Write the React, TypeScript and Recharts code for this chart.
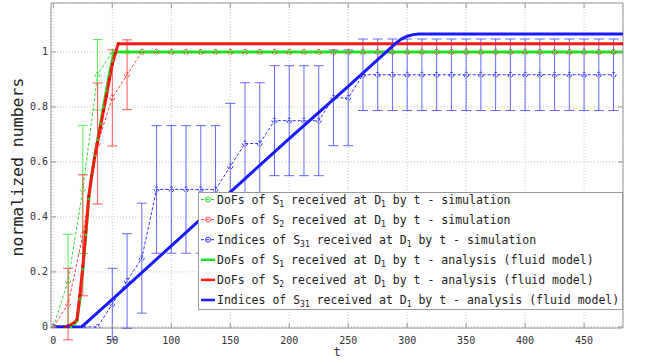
import { ComposedChart, Line, XAxis, YAxis, CartesianGrid, ErrorBar, ReferenceArea } from "recharts";

const FONT = "'DejaVu Sans Mono', monospace";

// plot frame (px) — matches margins + axis sizes below
const PLOT_L = 51;
const PLOT_T = 3;
const PLOT_R = 623;
const PLOT_B = 328;

// simulation sample times
const simT = [
  0, 12.5, 25, 37.5, 50, 62.5, 75, 87.5, 100, 112.5, 125, 137.5, 150, 162.5, 175, 187.5, 200, 212.5, 225, 237.5,
  250, 262.5, 275, 287.5, 300, 312.5, 325, 337.5, 350, 362.5, 375, 387.5, 400, 412.5, 425, 437.5, 450, 462.5, 475,
];

// DoFs of S1 - simulation (mean, error)
const s1Sim = [
  0, 0.167, 0.5, 0.917, 1, 1, 1, 1, 1, 1, 1, 1, 1, 1, 1, 1, 1, 1, 1, 1,
  1, 1, 1, 1, 1, 1, 1, 1, 1, 1, 1, 1, 1, 1, 1, 1, 1, 1, 1,
];
const s1Err = [
  0, 0.17, 0.233, 0.128, 0, 0, 0, 0, 0, 0, 0, 0, 0, 0, 0, 0, 0, 0, 0, 0,
  0, 0, 0, 0, 0, 0, 0, 0, 0, 0, 0, 0, 0, 0, 0, 0, 0, 0, 0,
];

// DoFs of S2 - simulation
const s2Sim = [
  0, 0.083, 0.333, 0.667, 0.833, 0.917, 1, 1, 1, 1, 1, 1, 1, 1, 1, 1, 1, 1, 1, 1,
  1, 1, 1, 1, 1, 1, 1, 1, 1, 1, 1, 1, 1, 1, 1, 1, 1, 1, 1,
];
const s2Err = [
  0, 0.13, 0.22, 0.22, 0.175, 0.127, 0, 0, 0, 0, 0, 0, 0, 0, 0, 0, 0, 0, 0, 0,
  0, 0, 0, 0, 0, 0, 0, 0, 0, 0, 0, 0, 0, 0, 0, 0, 0, 0, 0,
];

// Indices of S31 - simulation
const s3Sim = [
  0, 0, 0, 0, 0.083, 0.167, 0.25, 0.5, 0.5, 0.5, 0.5, 0.5, 0.583, 0.667, 0.667, 0.75, 0.75, 0.75, 0.75, 0.833,
  0.833, 0.917, 0.917, 0.917, 0.917, 0.917, 0.917, 0.917, 0.917, 0.917, 0.917, 0.917, 0.917, 0.917, 0.917, 0.917, 0.917, 0.917, 0.917,
];
const s3Err = [
  0, 0, 0, 0, 0.13, 0.172, 0.2, 0.232, 0.232, 0.232, 0.232, 0.232, 0.23, 0.221, 0.221, 0.2, 0.2, 0.2, 0.2, 0.174,
  0.174, 0.13, 0.13, 0.13, 0.13, 0.13, 0.13, 0.13, 0.13, 0.13, 0.13, 0.13, 0.13, 0.13, 0.13, 0.13, 0.13, 0.13, 0.13,
];

// fluid model curves
const fluidS1T = [0, 15, 17.5, 20, 22.5, 25, 27.5, 30, 32.5, 35, 37.5, 40, 42.5, 45, 47.5, 50, 51.5, 483];
const fluidS1 = [0, 0, 0.008, 0.022, 0.1, 0.21, 0.335, 0.465, 0.55, 0.62, 0.68, 0.74, 0.8, 0.86, 0.92, 0.97, 1, 1];

const fluidS2T = [0, 10, 12.5, 15, 17.5, 20, 22.5, 25, 27.5, 30, 32.5, 35, 37.5, 40, 42.5, 45, 47.5, 50, 52.5, 55, 483];
const fluidS2 = [0, 0, 0.003, 0.008, 0.015, 0.026, 0.115, 0.22, 0.345, 0.475, 0.55, 0.615, 0.672, 0.728, 0.785, 0.84, 0.9, 0.955, 0.995, 1.03, 1.03];

const fluidS3T = [0, 24, 50, 100, 150, 200, 250, 290, 295, 300, 305, 310, 483];
const fluidS3 = [0, 0, 0.1, 0.295, 0.49, 0.685, 0.875, 1.03, 1.047, 1.057, 1.063, 1.065, 1.065];

const xTicks = [0, 50, 100, 150, 200, 250, 300, 350, 400, 450];
const yTicks = [0, 0.2, 0.4, 0.6, 0.8, 1];

const toRows = (ts: number[], vs: number[], errs?: number[]) =>
  ts.map((t, i) => ({ t, v: vs[i], err: errs ? errs[i] : 0 }));

const GREEN = "#22e022";
const RED = "#ff1a1a";
const BLUE = "#1a1aff";

const legendRows = [
  { pre: "DoFs of S", sub: "1", tail: "simulation", color: "#33dd33", sim: true },
  { pre: "DoFs of S", sub: "2", tail: "simulation", color: "#ff4444", sim: true },
  { pre: "Indices of S", sub: "31", tail: "simulation", color: "#3333ff", sim: true },
  { pre: "DoFs of S", sub: "1", tail: "analysis (fluid model)", color: GREEN, sim: false },
  { pre: "DoFs of S", sub: "2", tail: "analysis (fluid model)", color: RED, sim: false },
  { pre: "Indices of S", sub: "31", tail: "analysis (fluid model)", color: BLUE, sim: false },
];

function XTick({ x, payload }: any) {
  return (
    <g>
      <line x1={x} x2={x} y1={PLOT_B} y2={PLOT_B - 5} stroke="#999" />
      <line x1={x} x2={x} y1={PLOT_T} y2={PLOT_T + 5} stroke="#999" />
      <text x={x} y={343.5} textAnchor="middle" fontSize={10} fill="#333" fontFamily={FONT}>
        {payload.value}
      </text>
    </g>
  );
}

function YTick({ y, payload }: any) {
  return (
    <g>
      <line x1={PLOT_L} x2={PLOT_L + 5} y1={y} y2={y} stroke="#999" />
      <line x1={PLOT_R} x2={PLOT_R - 5} y1={y} y2={y} stroke="#999" />
      <text x={48} y={y} dy="0.35em" textAnchor="end" fontSize={10} fill="#333" fontFamily={FONT}>
        {payload.value}
      </text>
    </g>
  );
}

function LegendBox() {
  return (
    <svg width={426} height={119} style={{ position: "absolute", left: 198, top: 192 }}>
      <rect x={0.5} y={0.5} width={424} height={117} fill="#fff" stroke="#999" />
      {legendRows.map((r, i) => (
        <g key={i} transform={`translate(0, ${11.5 + i * 20.1})`}>
          <line
            x1={3}
            x2={17}
            y1={-4}
            y2={-4}
            stroke={r.color}
            strokeWidth={r.sim ? 1 : 2.5}
            strokeDasharray={r.sim ? "3 2" : undefined}
          />
          {r.sim ? (
            <circle cx={10} cy={-4} r={2.5} fill="none" stroke={r.color} />
          ) : (
            <circle cx={10} cy={-4} r={1.3} fill={r.color} />
          )}
          <text x={19} y={0} fontSize={11.5} fill="#222" fontFamily={FONT} style={{ whiteSpace: "pre" }}>
            {r.pre}
            <tspan fontSize={8} dy={3}>{r.sub}</tspan>
            <tspan dy={-3}>{" received at D"}</tspan>
            <tspan fontSize={8} dy={3}>1</tspan>
            <tspan dy={-3}>{" by t - " + r.tail}</tspan>
          </text>
        </g>
      ))}
    </svg>
  );
}

export default function App() {
  return (
    <div style={{ position: "absolute", left: 0, top: 0, width: 657, height: 360, background: "#fff" }}>
      <ComposedChart width={657} height={360} margin={{ top: PLOT_T, right: 657 - PLOT_R, bottom: 0, left: 0 }}>
        <CartesianGrid stroke="#c4c4c4" strokeDasharray="1 2" />
        <XAxis
          type="number"
          dataKey="t"
          domain={[-2, 483]}
          allowDataOverflow
          ticks={xTicks}
          height={360 - PLOT_B}
          tickSize={0}
          tickMargin={0}
          tickLine={false}
          axisLine={false}
          tick={<XTick />}
          label={() => (
            <text x={337} y={356} textAnchor="middle" fontSize={12} fill="#333" fontFamily={FONT}>
              t
            </text>
          )}
        />
        <YAxis
          type="number"
          domain={[-0.004, 1.178]}
          allowDataOverflow
          ticks={yTicks}
          width={PLOT_L}
          tickSize={0}
          tickMargin={0}
          tickLine={false}
          axisLine={false}
          tick={<YTick />}
          label={() => (
            <text
              x={18}
              y={167}
              transform="rotate(-90 18 167)"
              textAnchor="middle"
              dominantBaseline="middle"
              fontSize={16.5}
              fill="#222"
              fontFamily={FONT}
            >
              normalized numbers
            </text>
          )}
        />

        <Line
          data={toRows(simT, s1Sim, s1Err)}
          dataKey="v"
          stroke="#33dd33"
          strokeWidth={1}
          strokeDasharray="3 2"
          dot={{ r: 2.5, fill: "none", stroke: "#33dd33", strokeWidth: 1 }}
          isAnimationActive={false}
        >
          <ErrorBar dataKey="err" direction="y" width={5} stroke="#55ee55" strokeWidth={1} />
        </Line>
        <Line
          data={toRows(simT, s2Sim, s2Err)}
          dataKey="v"
          stroke="#ff4444"
          strokeWidth={1}
          strokeDasharray="3 2"
          dot={{ r: 2.5, fill: "none", stroke: "#ff4444", strokeWidth: 1 }}
          isAnimationActive={false}
        >
          <ErrorBar dataKey="err" direction="y" width={5} stroke="#ff5555" strokeWidth={1} />
        </Line>
        <Line
          data={toRows(simT, s3Sim, s3Err)}
          dataKey="v"
          stroke="#3333ff"
          strokeWidth={1}
          strokeDasharray="3 2"
          dot={{ r: 2.5, fill: "none", stroke: "#3333ff", strokeWidth: 1 }}
          isAnimationActive={false}
        >
          <ErrorBar dataKey="err" direction="y" width={5} stroke="#4444ff" strokeWidth={1} strokeOpacity={0.8} />
        </Line>

        <Line
          data={toRows(fluidS1T, fluidS1)}
          dataKey="v"
          stroke={GREEN}
          strokeWidth={3}
          dot={{ r: 1.2, fill: GREEN, stroke: "none" }}
          isAnimationActive={false}
        />
        <Line
          data={toRows(fluidS2T, fluidS2)}
          dataKey="v"
          stroke={RED}
          strokeWidth={3}
          dot={{ r: 1.2, fill: "#cc0000", stroke: "none" }}
          isAnimationActive={false}
        />
        <Line
          data={toRows(fluidS3T, fluidS3)}
          dataKey="v"
          stroke={BLUE}
          strokeWidth={3}
          dot={false}
          isAnimationActive={false}
        />

        <ReferenceArea x1={-2} x2={483} y1={-0.004} y2={1.178} fill="none" stroke="#999" ifOverflow="visible" />
      </ComposedChart>
      <LegendBox />
    </div>
  );
}
